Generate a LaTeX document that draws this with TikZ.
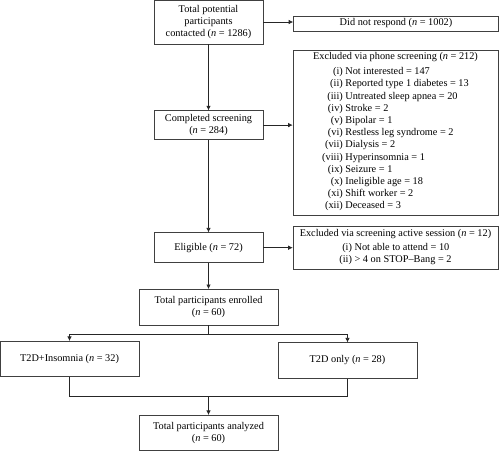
\documentclass[tikz,border=0pt]{standalone}
\usepackage{fontspec}
\setmainfont{Liberation Serif}
\usepackage{tikz}
\usetikzlibrary{arrows.meta,positioning}

\begin{document}
\begin{tikzpicture}[
    x=1pt, y=1pt,
    node distance=30pt,
    font=\fontsize{10.3}{12.2}\selectfont,
    >={Latex[length=4.5pt,width=4.5pt]},
    line width=0.7pt,
    fbox/.style={draw=black!75, fill=white, line width=0.6pt, inner sep=2pt, align=center},
    mbox/.style={fbox, minimum width=109pt},
    wbox/.style={fbox, minimum width=139pt, minimum height=35.5pt},
    xbox/.style={fbox, minimum width=205pt}
]
    \useasboundingbox (0,0) rectangle (500,-451);

    % Nodes (main column)
        \node [mbox, minimum height=44pt] (total) at (208.5,-22) {Total potential\\participants\\contacted (\textit{n} = 1286)};
        \node [mbox, minimum height=29pt, below=66pt of total] (completed) {Completed screening\\(\textit{n} = 284)};
        \node [mbox, minimum height=30pt, below=92.5pt of completed] (eligible) {Eligible (\textit{n} = 72)};
        \node [wbox, below=26pt of eligible] (enrolled) {Total participants enrolled\\(\textit{n} = 60)};
        \node [wbox] (ins) at (69.5,-359) {T2D+Insomnia (\textit{n} = 32)};
        \node [wbox] (only) at (347.5,-360.5) {T2D only (\textit{n} = 28)};
        \node [wbox] (analyzed) at (208.5,-433) {Total participants analyzed\\(\textit{n} = 60)};

        % Nodes (exclusions)
        \node [xbox, minimum height=15pt] (noreply) at (396,-23.5) {Did not respond (\textit{n} = 1002)};
        \node [xbox, minimum height=165pt] (phone) at (395.5,-132.5) {Excluded via phone screening (\textit{n} = 212)\\[3.3pt]
            \begin{tabular}{@{}r@{\ }l@{}}
            (i) & Not interested = 147\\
            (ii) & Reported type 1 diabetes = 13\\
            (iii) & Untreated sleep apnea = 20\\
            (iv) & Stroke = 2\\
            (v) & Bipolar = 1\\
            (vi) & Restless leg syndrome = 2\\
            (vii) & Dialysis = 2\\
            (viii) & Hyperinsomnia = 1\\
            (ix) & Seizure = 1\\
            (x) & Ineligible age = 18\\
            (xi) & Shift worker = 2\\
            (xii) & Deceased = 3
            \end{tabular}};
        \node [xbox, minimum height=43pt] (active) at (395.5,-247.5) {Excluded via screening active session (\textit{n} = 12)\\[2pt]
            \begin{tabular}{@{}r@{\ }l@{}}
            (i) & Not able to attend = 10\\
            (ii) & > 4 on STOP–Bang = 2
            \end{tabular}};

        % Arrows
        \draw[->, black!85] (total) -- (completed);
        \draw[->, black!85] (completed) -- (eligible);
        \draw[->, black!85] (eligible) -- (enrolled);
        \draw[->, black!85] (total.east) -- (total.east -| noreply.west);
        \draw[->, black!85] (completed.east) -- (completed.east -| phone.west);
        \draw[->, black!85] (eligible.east) -- (eligible.east -| active.west);
        \draw[black!85] (enrolled.south) -- ++(0,-9) coordinate (split);
        \draw[->, black!85] (split) -| (ins);
        \draw[->, black!85] (split) -| (only);
        \draw[black!85] (ins.south) -- ++(0,-19) coordinate (join) -| (only.south);
        \draw[->, black!85] (join -| analyzed) -- (analyzed);
\end{tikzpicture}
\end{document}
